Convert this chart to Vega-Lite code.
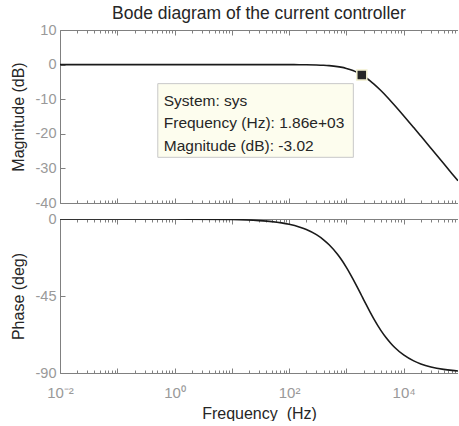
{
  "$schema": "https://vega.github.io/schema/vega-lite/v6.json",
  "padding": {"left": 10, "top": 4, "right": 0, "bottom": 0},
  "spacing": 1,
  "config": {
    "font": "Liberation Sans",
    "view": {"stroke": null},
    "axis": {
      "grid": false,
      "domainColor": "#808080",
      "tickColor": "#808080",
      "labelColor": "#999999",
      "titleColor": "#262626",
      "labelFont": "Liberation Sans",
      "titleFont": "Liberation Sans",
      "labelFontSize": 14.5,
      "titleFontSize": 16,
      "titleFontWeight": "normal",
      "domainWidth": 1,
      "tickWidth": 1,
      "labelFlush": false
    }
  },
  "datasets": {
    "bode": [
      {"f": 0.01, "mag": 0, "phase": 0},
      {"f": 0.1, "mag": 0, "phase": -0.003},
      {"f": 1, "mag": 0, "phase": -0.031},
      {"f": 10, "mag": -0.0001, "phase": -0.308},
      {"f": 30, "mag": -0.0011, "phase": -0.924},
      {"f": 50, "mag": -0.0031, "phase": -1.54},
      {"f": 100, "mag": -0.0125, "phase": -3.077},
      {"f": 150, "mag": -0.0282, "phase": -4.611},
      {"f": 200, "mag": -0.0499, "phase": -6.137},
      {"f": 300, "mag": -0.1116, "phase": -9.162},
      {"f": 400, "mag": -0.196, "phase": -12.14},
      {"f": 500, "mag": -0.3034, "phase": -15.046},
      {"f": 700, "mag": -0.5753, "phase": -20.625},
      {"f": 800, "mag": -0.737, "phase": -23.27},
      {"f": 1000, "mag": -1.1027, "phase": -28.26},
      {"f": 1150, "mag": -1.406, "phase": -31.73},
      {"f": 1300, "mag": -1.7275, "phase": -34.95},
      {"f": 1600, "mag": -2.405, "phase": -40.7},
      {"f": 1860, "mag": -3.01, "phase": -45},
      {"f": 2000, "mag": -3.337, "phase": -47.08},
      {"f": 2200, "mag": -3.8, "phase": -49.79},
      {"f": 2600, "mag": -4.704, "phase": -54.42},
      {"f": 3000, "mag": -5.565, "phase": -58.2},
      {"f": 4000, "mag": -7.501, "phase": -65.06},
      {"f": 5000, "mag": -9.152, "phase": -69.59},
      {"f": 6000, "mag": -10.571, "phase": -72.78},
      {"f": 7000, "mag": -11.808, "phase": -75.12},
      {"f": 10000, "mag": -14.757, "phase": -79.46},
      {"f": 15000, "mag": -18.198, "phase": -82.93},
      {"f": 20000, "mag": -20.668, "phase": -84.69},
      {"f": 30000, "mag": -24.169, "phase": -86.45},
      {"f": 50000, "mag": -28.595, "phase": -87.87},
      {"f": 70000, "mag": -31.515, "phase": -88.48},
      {"f": 89000, "mag": -33.6, "phase": -88.8}
    ],
    "tipbox": [{"f": 0.51, "f2": 1324, "db": -5.5, "db2": -26.8}],
    "tiptext": [
      {"f": 0.648, "db": -10.4, "label": "System: sys"},
      {"f": 0.648, "db": -17.0, "label": "Frequency (Hz): 1.86e+03"},
      {"f": 0.648, "db": -23.4, "label": "Magnitude (dB): -3.02"}
    ],
    "tippoint": [{"f": 1860, "db": -3.02}]
  },
  "vconcat": [
    {
      "width": 398,
      "height": 173,
      "title": {"text": "Bode diagram of the current controller", "fontSize": 17.5, "fontWeight": "normal", "color": "#262626", "offset": 0, "anchor": "middle", "font": "Liberation Sans"},
      "resolve": {"axis": {"x": "independent", "y": "independent"}},
      "layer": [
        {
          "data": {"name": "bode"},
          "mark": {"type": "line", "color": "#1a1a1a", "strokeWidth": 1.6, "interpolate": "monotone", "clip": true},
          "encoding": {
            "x": {"field": "f", "type": "quantitative",
              "scale": {"type": "log", "domain": [0.01, 89000], "nice": false},
              "axis": {"orient": "bottom", "title": null, "labels": false,
                "values": [0.01,0.02,0.03,0.04,0.05,0.06,0.07,0.08,0.09,0.1,0.2,0.3,0.4,0.5,0.6,0.7,0.8,0.9,1,2,3,4,5,6,7,8,9,10,20,30,40,50,60,70,80,90,100,200,300,400,500,600,700,800,900,1000,2000,3000,4000,5000,6000,7000,8000,9000,10000,20000,30000,40000,50000,60000,70000,80000],
                "tickSize": {"condition": {"test": "abs(log(datum.value)/LN10 - round(log(datum.value)/LN10)) < 0.001", "value": -5}, "value": -3}}},
            "y": {"field": "mag", "type": "quantitative",
              "scale": {"domain": [-40, 10], "nice": false},
              "axis": {"orient": "left", "title": "Magnitude (dB)", "values": [-40, -30, -20, -10, 0, 10], "labelExpr": "'' + datum.value", "tickSize": -5, "labelPadding": 9, "titlePadding": 9}}
          }
        },
        {
          "data": {"name": "tipbox"},
          "mark": {"type": "rect", "fill": "#fdfdee", "stroke": "#c8c8c8", "strokeWidth": 1},
          "encoding": {
            "x": {"field": "f", "type": "quantitative",
              "axis": {"orient": "top", "title": null, "labels": false, "domain": true,
                "values": [0.01,0.02,0.03,0.04,0.05,0.06,0.07,0.08,0.09,0.1,0.2,0.3,0.4,0.5,0.6,0.7,0.8,0.9,1,2,3,4,5,6,7,8,9,10,20,30,40,50,60,70,80,90,100,200,300,400,500,600,700,800,900,1000,2000,3000,4000,5000,6000,7000,8000,9000,10000,20000,30000,40000,50000,60000,70000,80000],
                "tickSize": {"condition": {"test": "abs(log(datum.value)/LN10 - round(log(datum.value)/LN10)) < 0.001", "value": -5}, "value": -3}}},
            "x2": {"field": "f2"},
            "y": {"field": "db", "type": "quantitative", "axis": null},
            "y2": {"field": "db2"}
          }
        },
        {
          "data": {"name": "tiptext"},
          "mark": {"type": "text", "align": "left", "baseline": "middle", "fontSize": 15.5, "color": "#262626", "font": "Liberation Sans"},
          "encoding": {
            "x": {"field": "f", "type": "quantitative", "axis": null},
            "y": {"field": "db", "type": "quantitative", "axis": null},
            "text": {"field": "label"}
          }
        },
        {
          "data": {"name": "tippoint"},
          "mark": {"type": "point", "shape": "square", "size": 100, "filled": true, "fill": "#262626", "stroke": "#f2f0d0", "strokeWidth": 1.5, "opacity": 1},
          "encoding": {
            "x": {"field": "f", "type": "quantitative", "axis": null},
            "y": {"field": "db", "type": "quantitative", "axis": null}
          }
        }
      ]
    },
    {
      "width": 398,
      "height": 154,
      "resolve": {"axis": {"x": "independent", "y": "independent"}},
      "layer": [
        {
          "data": {"name": "bode"},
          "mark": {"type": "line", "color": "#1a1a1a", "strokeWidth": 1.6, "interpolate": "monotone", "clip": true},
          "encoding": {
            "x": {"field": "f", "type": "quantitative",
              "scale": {"type": "log", "domain": [0.01, 89000], "nice": false},
              "axis": {"orient": "bottom", "title": "Frequency\u00a0 (Hz)", "titlePadding": 5,
                "values": [0.01,0.02,0.03,0.04,0.05,0.06,0.07,0.08,0.09,0.1,0.2,0.3,0.4,0.5,0.6,0.7,0.8,0.9,1,2,3,4,5,6,7,8,9,10,20,30,40,50,60,70,80,90,100,200,300,400,500,600,700,800,900,1000,2000,3000,4000,5000,6000,7000,8000,9000,10000,20000,30000,40000,50000,60000,70000,80000],
                "labelExpr": "datum.value == 0.01 ? '10⁻²' : datum.value == 1 ? '10⁰' : datum.value == 100 ? '10²' : datum.value == 10000 ? '10⁴' : ''",
                "labelPadding": 17, "labelFontSize": 15,
                "tickSize": {"condition": {"test": "abs(log(datum.value)/LN10 - round(log(datum.value)/LN10)) < 0.001", "value": -5}, "value": -3}}},
            "y": {"field": "phase", "type": "quantitative",
              "scale": {"domain": [-90, 0], "nice": false},
              "axis": {"orient": "left", "title": "Phase (deg)", "values": [-90, -45, 0], "labelExpr": "'' + datum.value", "tickSize": -5, "labelPadding": 9, "titlePadding": 9}}
          }
        },
        {
          "data": {"name": "bode"},
          "mark": {"type": "line", "opacity": 0},
          "encoding": {
            "x": {"field": "f", "type": "quantitative",
              "axis": {"orient": "top", "title": null, "labels": false,
                "values": [0.01,0.02,0.03,0.04,0.05,0.06,0.07,0.08,0.09,0.1,0.2,0.3,0.4,0.5,0.6,0.7,0.8,0.9,1,2,3,4,5,6,7,8,9,10,20,30,40,50,60,70,80,90,100,200,300,400,500,600,700,800,900,1000,2000,3000,4000,5000,6000,7000,8000,9000,10000,20000,30000,40000,50000,60000,70000,80000],
                "tickSize": {"condition": {"test": "abs(log(datum.value)/LN10 - round(log(datum.value)/LN10)) < 0.001", "value": -5}, "value": -3}}},
            "y": {"field": "phase", "type": "quantitative", "axis": null}
          }
        }
      ]
    }
  ]
}
